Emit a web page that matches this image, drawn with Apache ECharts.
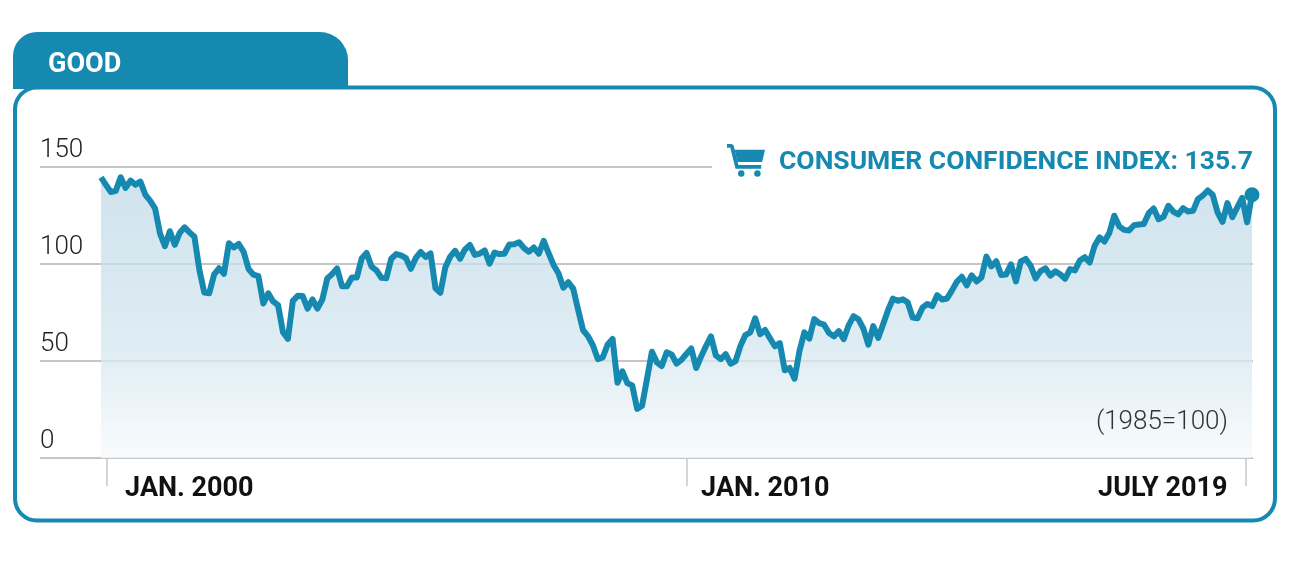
<!DOCTYPE html>
<html>
<head>
<meta charset="utf-8">
<script src="https://cdn.jsdelivr.net/npm/echarts@6/dist/echarts.min.js"></script>
<style>
  html, body { margin: 0; padding: 0; background: #fff; }
  #chart { width: 1292px; height: 563px; }
</style>
</head>
<body>
<div id="chart"></div>
<script>
// monthly index values, Jan 2000 .. July 2019 (1985=100)
var y2000 = [144.7, 140.8, 137.1, 137.7, 144.7, 139.2, 143.0, 140.8, 142.5, 135.8, 132.6, 128.6];
var y2001 = [115.7, 109.2, 116.9, 109.9, 116.1, 118.9, 116.3, 114.0, 97.0, 85.3, 84.9, 94.6];
var y2002 = [97.8, 95.0, 110.7, 108.5, 110.3, 106.3, 97.4, 94.5, 93.7, 79.6, 84.9, 80.7];
var y2003 = [78.8, 64.8, 61.4, 81.0, 83.6, 83.5, 77.0, 81.7, 77.0, 81.7, 92.5, 94.8];
var y2004 = [97.7, 88.5, 88.5, 93.0, 93.1, 102.8, 105.7, 98.7, 96.7, 92.9, 92.6, 102.7];
var y2005 = [105.1, 104.4, 103.0, 97.5, 103.1, 106.2, 103.6, 105.5, 87.5, 85.2, 98.3, 103.8];
var y2006 = [106.8, 102.7, 107.5, 109.8, 104.7, 105.4, 107.0, 100.2, 105.9, 105.1, 105.3, 110.0];
var y2007 = [110.2, 111.2, 108.2, 106.3, 108.5, 105.3, 111.9, 105.6, 99.5, 95.2, 87.8, 90.6];
var y2008 = [87.3, 76.4, 65.9, 62.8, 58.1, 51.0, 51.9, 58.5, 61.4, 38.8, 44.7, 38.6];
var y2009 = [37.4, 25.3, 26.9, 40.8, 54.8, 49.3, 47.4, 54.5, 53.4, 48.7, 50.6, 53.6];
var y2010 = [56.5, 46.4, 52.3, 57.7, 62.7, 52.9, 51.0, 53.5, 48.6, 49.9, 57.8, 63.4];
var y2011 = [64.8, 72.0, 63.8, 66.0, 61.7, 57.6, 59.2, 45.2, 46.4, 40.9, 55.2, 64.8];
var y2012 = [61.5, 71.6, 69.5, 68.7, 64.4, 62.7, 65.4, 61.3, 68.4, 73.1, 71.5, 66.7];
var y2013 = [58.4, 68.0, 61.9, 69.0, 76.2, 82.1, 81.0, 81.8, 80.2, 72.4, 72.0, 77.5];
var y2014 = [79.4, 78.3, 83.9, 81.7, 82.2, 86.4, 90.9, 93.4, 89.0, 94.1, 91.0, 93.1];
var y2015 = [103.8, 98.8, 101.4, 94.3, 94.6, 99.8, 91.0, 101.3, 102.6, 99.1, 92.6, 96.3];
var y2016 = [97.8, 94.0, 96.2, 94.7, 92.4, 97.4, 96.7, 101.8, 103.5, 100.8, 109.4, 113.7];
var y2017 = [111.6, 116.1, 124.9, 119.4, 117.6, 117.3, 120.0, 120.4, 120.6, 126.2, 128.6, 123.1];
var y2018 = [124.3, 130.0, 127.0, 125.6, 128.8, 127.1, 127.4, 133.4, 135.3, 137.9, 135.7, 126.6];
var y2019 = [121.7, 131.4, 124.2, 129.2, 134.1, 121.5, 135.7];

var yTicks = [0, 50, 100, 150];
var xTickLabels = ['JAN. 2000', 'JAN. 2010', 'JULY 2019'];
var seriesName = 'CONSUMER CONFIDENCE INDEX';
var baseNote = '(1985=100)';

var values = [].concat(y2000, y2001, y2002, y2003, y2004, y2005, y2006, y2007, y2008, y2009,
  y2010, y2011, y2012, y2013, y2014, y2015, y2016, y2017, y2018, y2019);
var lastIdx = values.length - 1;

var teal = '#1689b1';

// month index -> x; the grid runs a bit further left than the first month
var xMin = -12.4, xMax = lastIdx + 0.2;
var tickPos = [1.2, 119.1, 232.7];
var labelPosLeft = [4.9, 122.0];
var labelPosRight = [229.0];

var seriesData = values.map(function (v, i) {
  if (i === lastIdx) {
    return { value: [i, v], symbol: 'circle', symbolSize: 15 };
  }
  return [i, v];
});

var chart = echarts.init(document.getElementById('chart'));

chart.setOption({
  animation: false,
  backgroundColor: '#fff',
  title: {
    text: seriesName + ': ' + values[lastIdx],
    right: 39,
    top: 149,
    padding: 0,
    textStyle: { fontFamily: 'Roboto', fontWeight: 'bold', fontSize: 26.5, color: teal }
  },
  grid: { left: 40, right: 39, top: 167, bottom: 105 },
  xAxis: [{
    type: 'value',
    min: xMin,
    max: xMax,
    offset: 10,
    axisLine: { show: false },
    splitLine: { show: false },
    axisTick: { show: true, customValues: tickPos, length: 28, lineStyle: { color: '#c8c8c8', width: 1.5 } },
    axisLabel: {
      customValues: labelPosLeft,
      formatter: function (v) { return xTickLabels[labelPosLeft.indexOf(v)]; },
      align: 'left',
      verticalAlign: 'middle',
      margin: 21,
      fontFamily: 'Roboto', fontWeight: 'bold', fontSize: 27, color: '#111'
    }
  }, {
    type: 'value',
    min: xMin,
    max: xMax,
    position: 'bottom',
    offset: 10,
    axisLine: { show: false },
    splitLine: { show: false },
    axisTick: { show: false },
    axisLabel: {
      customValues: labelPosRight,
      formatter: function () { return xTickLabels[2]; },
      align: 'right',
      verticalAlign: 'middle',
      margin: 21,
      fontFamily: 'Roboto', fontWeight: 'bold', fontSize: 27, color: '#111'
    }
  }],
  yAxis: {
    type: 'value',
    min: yTicks[0],
    max: yTicks[yTicks.length - 1],
    interval: yTicks[1] - yTicks[0],
    axisLine: { show: false },
    axisTick: { show: false },
    splitLine: { lineStyle: { color: '#b3b3b3', width: 1.6 } },
    axisLabel: {
      inside: true,
      margin: 0,
      align: 'left',
      verticalAlign: 'bottom',
      padding: [0, 0, 4, 0],
      fontFamily: 'Roboto', fontWeight: 300, fontSize: 26, color: '#222'
    }
  },
  series: [{
    name: seriesName,
    type: 'line',
    data: seriesData,
    symbol: 'none',
    z: 5,
    lineStyle: { color: teal, width: 6, join: 'round' },
    itemStyle: { color: teal },
    areaStyle: {
      // slightly see-through so the grid lines show across the fill
      opacity: 0.75,
      color: new echarts.graphic.LinearGradient(0, 0, 0, 1, [
        { offset: 0, color: '#c0dae8' },
        { offset: 0.6, color: '#d4e6ef' },
        { offset: 1, color: '#f6fafc' }
      ])
    }
  }],
  graphic: [
    {
      type: 'rect', z: 1,
      shape: { x: 15, y: 87.5, width: 1260, height: 433, r: 22 },
      style: { fill: 'none', stroke: teal, lineWidth: 4 }
    },
    {
      type: 'rect', z: 2,
      shape: { x: 13, y: 32, width: 335, height: 57, r: [24, 28, 0, 0] },
      style: { fill: teal }
    },
    {
      type: 'text', z: 3, x: 48, y: 65,
      style: { text: 'GOOD', fill: '#fff', font: 'bold 27px Roboto', verticalAlign: 'middle' }
    },
    {
      type: 'rect', z: 2,
      shape: { x: 712, y: 158, width: 548, height: 16 },
      style: { fill: '#fff' }
    },
    {
      // shopping cart icon
      type: 'group', x: 727, y: 144, scaleX: 0.95, scaleY: 0.95,
      children: [
        { type: 'polygon', z: 10, shape: { points: [[0, 0], [5, 0], [7, 1.5], [12, 22], [36, 22], [36, 26], [9, 26], [3.5, 4], [0, 4]] }, style: { fill: teal } },
        { type: 'polygon', z: 10, shape: { points: [[8, 6], [40, 6], [37, 19], [11, 19]] }, style: { fill: teal } },
        { type: 'circle', z: 10, shape: { cx: 15, cy: 31, r: 3.4 }, style: { fill: teal } },
        { type: 'circle', z: 10, shape: { cx: 32, cy: 31, r: 3.4 }, style: { fill: teal } }
      ]
    },
    {
      type: 'text', z: 100, x: 1228, y: 422,
      style: { text: baseNote, fill: '#333', font: '300 26px Roboto', align: 'right', verticalAlign: 'middle' }
    }
  ]
});
</script>
</body>
</html>
